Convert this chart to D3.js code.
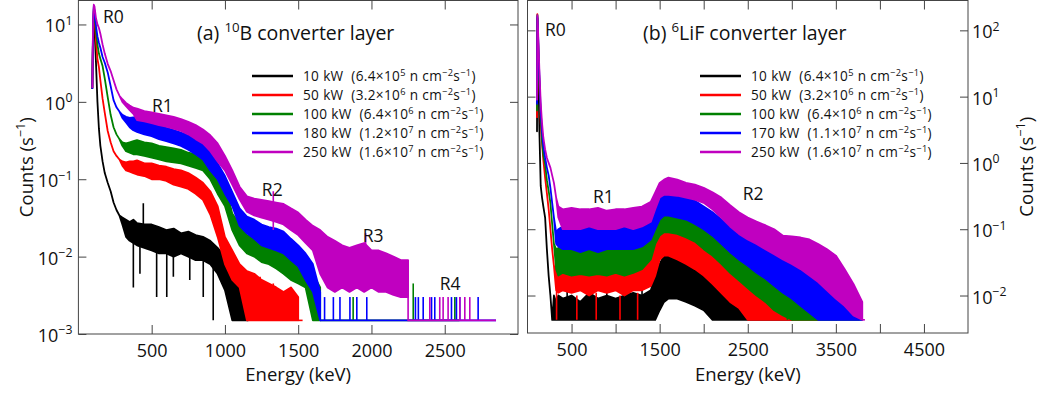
<!DOCTYPE html>
<html>
<head>
<meta charset="utf-8">
<script src="https://cdn.jsdelivr.net/npm/d3@7"></script>
<style>
  html, body { margin: 0; padding: 0; background: #fff; }
  svg { display: block; font-family: "Open Sans", "Liberation Sans", sans-serif; }
  text { white-space: pre; }
</style>
</head>
<body>
<svg id="chart" width="1047" height="394"></svg>
<script>
// ---- series meta ----
const seriesColors = ["#000000", "#ff0000", "#008000", "#0000ff", "#c000c0"];
const powerA = ["10 kW", "50 kW", "100 kW", "180 kW", "250 kW"];
const fluxMantA = ["6.4", "3.2", "6.4", "1.2", "1.6"];
const fluxExpA = ["5", "6", "6", "7", "7"];
const powerB = ["10 kW", "50 kW", "100 kW", "170 kW", "250 kW"];
const fluxMantB = ["6.4", "3.2", "6.4", "1.1", "1.6"];
const fluxExpB = ["5", "6", "6", "7", "7"];

// ---- panel (a): 10B converter, energy grid (keV) and count rates (s^-1) ----
const gridA = [95, 100, 105, 110, 120, 130, 140, 150, 165, 180,
  200, 220, 240, 260, 280, 300, 325, 350, 375, 400,
  450, 500, 550, 600, 650, 700, 750, 800, 850, 900,
  950, 1000, 1050, 1100, 1150, 1200, 1250, 1300, 1350, 1400,
  1450, 1500, 1550, 1600, 1650, 1700, 1750, 1800, 1850, 1900,
  1950, 2000, 2050, 2100, 2150, 2200, 2250];

const a10Hi = [1.5, 8, 12, 9, 3.2, 1.0, 0.45, 0.27, 0.17, 0.12,
  0.09, 0.07, 0.05, 0.04, 0.034, 0.032, 0.03, 0.028, 0.03, 0.027,
  0.026, 0.026, 0.024, 0.022, 0.023, 0.02, 0.021, 0.019, 0.018, 0.016,
  0.013, 0.01, 0.006, 0.0045, 0.004];
const a10Lo = [null, null, null, null, null, null, null, null, null, null,
  null, null, null, null, null, 0.026, 0.018, 0.016, 0.015, 0.014,
  0.013, 0.012, 0.011, 0.011, 0.01, 0.011, 0.01, 0.009, 0.009, 0.008,
  0.006, 0.0037, 0.0015, 0.0015, 0.0015];

const a50Hi = [1.5, 8, 15, 13, 6, 3.6, 2.8, 1.9, 1.1, 0.72,
  0.42, 0.3, 0.23, 0.2, 0.18, 0.17, 0.165, 0.17, 0.17, 0.175,
  0.16, 0.16, 0.15, 0.145, 0.135, 0.13, 0.12, 0.105, 0.09, 0.07,
  0.045, 0.018, 0.012, 0.008, 0.0065, 0.006, 0.005, 0.0045, 0.004, 0.0035,
  0.004, 0.003];
const a50Lo = [null, null, null, null, null, null, null, null, null, null,
  null, null, null, null, null, 0.15, 0.13, 0.125, 0.12, 0.115,
  0.11, 0.1, 0.1, 0.095, 0.085, 0.08, 0.075, 0.065, 0.054, 0.035,
  0.018, 0.008, 0.005, 0.004, 0.0015, 0.0015, 0.0015, 0.0015, 0.0015, 0.0015,
  0.0015, 0.0015];

const a100Hi = [1.5, 9, 16, 14, 8, 5.5, 4.2, 3.6, 2.9, 2.0,
  1.15, 0.68, 0.47, 0.38, 0.33, 0.3, 0.29, 0.3, 0.31, 0.32,
  0.3, 0.29, 0.27, 0.26, 0.25, 0.24, 0.22, 0.21, 0.2, 0.17,
  0.12, 0.085, 0.036, 0.026, 0.019, 0.017, 0.014, 0.013, 0.012, 0.012,
  0.011, 0.01, 0.008, 0.006, 0.004];
const a100Lo = [null, null, null, null, null, null, null, null, null, null,
  null, null, null, null, null, 0.27, 0.23, 0.22, 0.21, 0.21,
  0.2, 0.19, 0.18, 0.17, 0.165, 0.16, 0.15, 0.14, 0.13, 0.1,
  0.065, 0.045, 0.022, 0.014, 0.011, 0.01, 0.0085, 0.008, 0.007, 0.006,
  0.005, 0.0045, 0.004, 0.0015, 0.0015];

const a180Hi = [1.5, 10, 17, 15, 9.5, 7, 5.8, 5, 3.8, 3.2,
  2.4, 1.6, 1.05, 0.85, 0.75, 0.68, 0.64, 0.62, 0.63, 0.63,
  0.57, 0.53, 0.5, 0.46, 0.43, 0.4, 0.37, 0.33, 0.29, 0.22,
  0.16, 0.11, 0.068, 0.042, 0.033, 0.03, 0.026, 0.024, 0.023, 0.021,
  0.017, 0.014, 0.011, 0.008, 0.0035];
const a180Lo = [null, null, null, null, null, null, null, null, null, null,
  null, null, null, null, null, 0.62, 0.54, 0.47, 0.43, 0.41,
  0.38, 0.36, 0.33, 0.31, 0.29, 0.27, 0.24, 0.21, 0.18, 0.13,
  0.1, 0.065, 0.045, 0.025, 0.02, 0.017, 0.014, 0.013, 0.012, 0.011,
  0.009, 0.0075, 0.005, 0.0035, 0.0015];

const a250Hi = [1.55, 11, 18, 17, 12, 10, 9, 7.6, 5.5, 4.2,
  3.1, 2.5, 1.9, 1.45, 1.2, 1.08, 0.97, 0.9, 0.84, 0.82,
  0.76, 0.73, 0.7, 0.67, 0.64, 0.6, 0.55, 0.5, 0.44, 0.37,
  0.29, 0.2, 0.13, 0.08, 0.06, 0.056, 0.054, 0.052, 0.05, 0.048,
  0.042, 0.037, 0.03, 0.025, 0.022, 0.018, 0.016, 0.014, 0.013, 0.014,
  0.015, 0.012, 0.012, 0.011, 0.01, 0.009, 0.009];
const a250Lo = [null, null, null, null, null, null, null, null, null, null,
  null, null, null, null, null, 1.0, 0.88, 0.78, 0.7, 0.58,
  0.56, 0.53, 0.5, 0.48, 0.45, 0.42, 0.38, 0.33, 0.29, 0.23,
  0.17, 0.13, 0.085, 0.055, 0.038, 0.034, 0.032, 0.03, 0.028, 0.026,
  0.022, 0.019, 0.015, 0.012, 0.006, 0.004, 0.0035, 0.004, 0.0035, 0.004,
  0.0035, 0.004, 0.0035, 0.0035, 0.0032, 0.003, 0.003];

const floorA = 0.0015;                       // single-count level
const tailEndA = [1160, 1530, 2600, 2850, 2850];
// isolated noise strokes: [energy, low, high]
const spikesA = [
  [[375, 0.004, 0.015], [420, 0.006, 0.014], [443, 0.013, 0.049], [534, 0.003, 0.012],
   [603, 0.003, 0.011], [648, 0.0055, 0.011], [760, 0.005, 0.01], [852, 0.003, 0.009],
   [920, 0.0015, 0.008], [1070, 0.0015, 0.0048], [1100, 0.0015, 0.005]],
  [[1180, 0.0015, 0.006], [1240, 0.0015, 0.0055], [1330, 0.0015, 0.0045]],
  [[1875, 0.0015, 0.003], [2285, 0.0015, 0.0045], [2569, 0.0015, 0.003]],
  [[1680, 0.0015, 0.003], [1740, 0.0015, 0.003], [1785, 0.0015, 0.003], [1853, 0.0015, 0.003],
   [1900, 0.0015, 0.003], [1968, 0.0015, 0.003], [2300, 0.0015, 0.003], [2320, 0.0015, 0.003],
   [2353, 0.0015, 0.003], [2410, 0.0015, 0.003], [2432, 0.0015, 0.003], [2546, 0.0015, 0.003],
   [2580, 0.0015, 0.003], [2603, 0.0015, 0.003], [2728, 0.0015, 0.003]],
  [[1330, 0.022, 0.07], [1960, 0.005, 0.02], [2398, 0.0015, 0.003], [2466, 0.0015, 0.003],
   [2489, 0.0015, 0.003], [2523, 0.0015, 0.003], [2603, 0.0015, 0.003], [2637, 0.0015, 0.003],
   [2671, 0.0015, 0.003]]
];

// ---- panel (b): 6LiF converter ----
const gridB = [108, 112, 118, 125, 135, 150, 165, 180, 200, 220,
  240, 260, 280, 300, 325, 350, 400, 500, 600, 700,
  800, 900, 1000, 1100, 1200, 1300, 1400, 1450, 1500, 1550,
  1600, 1700, 1800, 1900, 2000, 2100, 2200, 2300, 2400, 2500,
  2600, 2700, 2800, 2900, 3000, 3100, 3200, 3300, 3400, 3500,
  3600, 3700, 3800];

const b10Hi = [3, 150, 70, 20, 3, 0.45, 0.3, 0.22, 0.15, 0.05,
  0.02, 0.01, 0.0043, 0.01, 0.008, 0.01, 0.009, 0.01, 0.008, 0.011,
  0.009, 0.01, 0.009, 0.01, 0.011, 0.01, 0.012, 0.02, 0.03, 0.04,
  0.045, 0.045, 0.04, 0.035, 0.03, 0.025, 0.02, 0.017, 0.014, 0.012,
  0.01, 0.008, 0.007, 0.0055, 0.0043];
const b10Lo = [null, null, null, null, null, null, null, null, null, null,
  null, null, null, 0.0043, 0.0043, 0.0043, 0.0043, 0.0043, 0.0043, 0.0043,
  0.0043, 0.0043, 0.0043, 0.0043, 0.0043, 0.0043, 0.0043, 0.0043, 0.006, 0.008,
  0.009, 0.009, 0.008, 0.007, 0.006, 0.0043, 0.0043, 0.0043, 0.0043, 0.0043,
  0.0043, 0.0043, 0.0043, 0.0043, 0.0043];

const b50Hi = [4.9, 175, 90, 40, 14, 4, 2, 1.1, 0.6, 0.35,
  0.2, 0.1, 0.05, 0.028, 0.025, 0.03, 0.03, 0.028, 0.03, 0.028,
  0.03, 0.025, 0.03, 0.03, 0.028, 0.03, 0.04, 0.07, 0.1, 0.12,
  0.12, 0.11, 0.095, 0.08, 0.07, 0.055, 0.045, 0.035, 0.028, 0.022,
  0.018, 0.014, 0.011, 0.009, 0.007, 0.006, 0.0055, 0.0043];
const b50Lo = [null, null, null, null, null, null, null, null, null, null,
  null, null, null, null, 0.012, 0.011, 0.012, 0.011, 0.012, 0.01,
  0.012, 0.011, 0.012, 0.01, 0.012, 0.012, 0.014, 0.02, 0.035, 0.04,
  0.04, 0.035, 0.03, 0.025, 0.02, 0.015, 0.011, 0.008, 0.0065, 0.0043,
  0.0043, 0.0043, 0.0043, 0.0043, 0.0043, 0.0043, 0.0043, 0.0043];

const b100Hi = [6.2, 170, 100, 45, 16, 5, 2.2, 1.3, 0.95, 0.55,
  0.38, 0.25, 0.12, 0.06, 0.05, 0.052, 0.055, 0.05, 0.05, 0.055,
  0.05, 0.052, 0.05, 0.055, 0.055, 0.06, 0.08, 0.13, 0.18, 0.21,
  0.2, 0.18, 0.15, 0.13, 0.11, 0.09, 0.07, 0.055, 0.045, 0.038,
  0.032, 0.025, 0.02, 0.016, 0.013, 0.011, 0.009, 0.008, 0.006, 0.0043];
const b100Lo = [null, null, null, null, null, null, null, null, null, null,
  null, null, null, null, 0.025, 0.02, 0.022, 0.02, 0.021, 0.02,
  0.021, 0.02, 0.022, 0.02, 0.022, 0.025, 0.035, 0.06, 0.08, 0.09,
  0.09, 0.085, 0.075, 0.065, 0.05, 0.04, 0.03, 0.022, 0.017, 0.013,
  0.01, 0.008, 0.006, 0.005, 0.0043, 0.0043, 0.0043, 0.0043, 0.0043, 0.0043];

const b170Hi = [7.8, 160, 110, 50, 20, 6, 3, 1.8, 1.2, 0.85,
  0.65, 0.42, 0.25, 0.15, 0.09, 0.1, 0.11, 0.1, 0.1, 0.11,
  0.1, 0.1, 0.105, 0.11, 0.11, 0.12, 0.15, 0.22, 0.3, 0.35,
  0.35, 0.32, 0.3, 0.27, 0.22, 0.18, 0.14, 0.11, 0.09, 0.075,
  0.065, 0.055, 0.045, 0.038, 0.032, 0.026, 0.022, 0.018, 0.014, 0.009,
  0.007, 0.008, 0.0043];
const b170Lo = [null, null, null, null, null, null, null, null, null, null,
  null, null, null, null, 0.06, 0.055, 0.05, 0.05, 0.045, 0.05,
  0.045, 0.05, 0.05, 0.05, 0.05, 0.055, 0.07, 0.1, 0.14, 0.16,
  0.16, 0.15, 0.14, 0.12, 0.1, 0.08, 0.06, 0.045, 0.035, 0.028,
  0.022, 0.018, 0.014, 0.011, 0.009, 0.007, 0.0055, 0.0043, 0.0043, 0.0043,
  0.0043, 0.0043, 0.0043];

const b250Hi = [9, 170, 120, 60, 25, 8, 4, 2.4, 1.6, 1.2,
  1.0, 0.85, 0.65, 0.5, 0.3, 0.22, 0.2, 0.21, 0.2, 0.2,
  0.21, 0.19, 0.2, 0.2, 0.21, 0.22, 0.26, 0.36, 0.5, 0.56,
  0.6, 0.56, 0.5, 0.47, 0.42, 0.36, 0.3, 0.23, 0.18, 0.15,
  0.13, 0.115, 0.1, 0.08, 0.078, 0.075, 0.07, 0.06, 0.05, 0.04,
  0.025, 0.015, 0.008];
const b250Lo = [null, null, null, null, null, null, null, null, null, null,
  null, null, null, null, null, 0.15, 0.1, 0.1, 0.1, 0.11,
  0.1, 0.1, 0.1, 0.11, 0.1, 0.11, 0.13, 0.2, 0.3, 0.33,
  0.33, 0.32, 0.3, 0.28, 0.25, 0.2, 0.15, 0.11, 0.085, 0.07,
  0.06, 0.05, 0.042, 0.035, 0.03, 0.025, 0.02, 0.016, 0.012, 0.009,
  0.007, 0.005, 0.0043];

const floorB = 0.0043;
const tailEndB = [3770, 3300, 3800, 3800, 3830];
const spikesB = [
  [[450, 0.0043, 0.0135], [900, 0.0043, 0.013], [1300, 0.0043, 0.014], [2750, 0.0043, 0.0105]],
  [[330, 0.0043, 0.012], [560, 0.0043, 0.01], [780, 0.0043, 0.011], [1050, 0.0043, 0.01],
   [1250, 0.0043, 0.011], [2650, 0.005, 0.026], [2850, 0.0043, 0.016]],
  [[2950, 0.0043, 0.02], [3150, 0.0043, 0.013]],
  [[3425, 0.0043, 0.015], [3747, 0.0043, 0.009]],
  [[3790, 0.0043, 0.0065]]
];

// ---- annotations (energy keV, count rate) ----
const regionNamesA = ["R0", "R1", "R2", "R3", "R4"];
const regionEA = [168, 502, 1252, 1941, 2466];
const regionCA = [10.3, 0.73, 0.06, 0.0154, 0.0037];
const regionNamesB = ["R0", "R1", "R2"];
const regionEB = [198, 743, 2443];
const regionCB = [81, 0.247, 0.274];

const xTickLabelsA = [500, 1000, 1500, 2000, 2500];
const xTickLabelsB = [500, 1500, 2500, 3500, 4500];
const yDecadesA = [-3, -2, -1, 0, 1];
const yDecadesB = [-2, -1, 0, 1, 2];

const svg = d3.select("#chart");
const frameColor = "#444";
const textColor = "#111";

// text with superscripts: parts = [[string, isSup], ...]
function richText(sel, parts, fs, rise = 0.42) {
  let up = false;
  parts.forEach(([str, sup]) => {
    const t = sel.append("tspan").text(str);
    if (sup) {
      t.attr("font-size", fs * 0.68);
      if (!up) { t.attr("dy", -fs * rise); up = true; }
    } else if (up) {
      t.attr("dy", fs * rise); up = false;
    }
  });
}

function expText(n) {
  return n < 0 ? "\u2212" + Math.abs(n) : String(n);
}

function drawPanel(cfg) {
  const g = svg.append("g");
  const x = d3.scaleLinear().domain(cfg.xDomain).range([cfg.left, cfg.right]);
  const y = d3.scaleLog().domain(cfg.yDomain).range([cfg.bottom, cfg.top]);

  const clipId = "clip-" + cfg.id;
  svg.append("clipPath").attr("id", clipId)
    .append("rect")
    .attr("x", cfg.left).attr("y", cfg.top)
    .attr("width", cfg.right - cfg.left).attr("height", cfg.bottom - cfg.top);

  const plot = g.append("g").attr("clip-path", `url(#${clipId})`);

  const area = d3.area()
    .defined(d => d.hi != null)
    .x(d => x(d.e))
    .y0(d => y(d.lo ?? d.hi))
    .y1(d => y(d.hi));

  cfg.hi.forEach((hiArr, k) => {
    const color = seriesColors[k];
    const pts = hiArr.map((v, i) => ({ e: cfg.grid[i], hi: v, lo: cfg.lo[k][i] }));
    const last = pts[pts.length - 1];

    // baseline tail: drop to single-count level and run on
    plot.append("path")
      .attr("d", d3.line()([
        [x(last.e), y(last.lo ?? last.hi)],
        [x(last.e), y(cfg.floor)],
        [x(cfg.tailEnd[k]), y(cfg.floor)]
      ]))
      .attr("fill", "none")
      .attr("stroke", color)
      .attr("stroke-width", 1.6);

    plot.selectAll(null)
      .data(cfg.spikes[k])
      .join("line")
      .attr("x1", d => x(d[0])).attr("x2", d => x(d[0]))
      .attr("y1", d => y(d[1])).attr("y2", d => y(d[2]))
      .attr("stroke", color)
      .attr("stroke-width", 1.6);

    plot.append("path")
      .datum(pts)
      .attr("d", area)
      .attr("fill", color)
      .attr("stroke", color)
      .attr("stroke-width", 1.8)
      .attr("stroke-linejoin", "round");
  });

  // frame
  g.append("rect")
    .attr("x", cfg.left).attr("y", cfg.top)
    .attr("width", cfg.right - cfg.left).attr("height", cfg.bottom - cfg.top)
    .attr("fill", "none").attr("stroke", frameColor).attr("stroke-width", 1);

  const xTicks = d3.range(500, cfg.xDomain[1], 500);
  const styleAxis = a => {
    a.select(".domain").remove();
    a.attr("color", frameColor).attr("font-family", null).attr("font-size", 18);
    a.selectAll("text").attr("fill", textColor);
  };

  g.append("g")
    .attr("transform", `translate(0,${cfg.bottom})`)
    .call(d3.axisBottom(x).tickValues(xTicks).tickSize(-9).tickPadding(10)
      .tickFormat(d => cfg.xLabels.includes(d) ? String(d) : ""))
    .call(styleAxis);

  g.append("g")
    .attr("transform", `translate(0,${cfg.top})`)
    .call(d3.axisTop(x).tickValues(xTicks).tickSize(-9).tickFormat(""))
    .call(styleAxis);

  const yTicks = cfg.decades.map(p => Math.pow(10, p));
  g.append("g")
    .attr("transform", `translate(${cfg.left},0)`)
    .call(d3.axisLeft(y).tickValues(yTicks).tickSize(-8).tickFormat(""))
    .call(styleAxis);
  g.append("g")
    .attr("transform", `translate(${cfg.right},0)`)
    .call(d3.axisRight(y).tickValues(yTicks).tickSize(-8).tickFormat(""))
    .call(styleAxis);

  // decade labels
  cfg.decades.forEach(p => {
    const t = g.append("text")
      .attr("x", cfg.yLabelSide === "left" ? cfg.left - 6 : cfg.right + 4)
      .attr("y", y(Math.pow(10, p)) + 8)
      .attr("text-anchor", cfg.yLabelSide === "left" ? "end" : "start")
      .attr("font-size", 18)
      .attr("fill", textColor);
    richText(t, [["10", false], [expText(p), true]], 18);
  });

  // axis titles
  g.append("text")
    .attr("x", (cfg.left + cfg.right) / 2)
    .attr("y", 381)
    .attr("text-anchor", "middle")
    .attr("font-size", 18.5)
    .attr("fill", textColor)
    .text("Energy (keV)");

  const yt = g.append("text")
    .attr("transform", `translate(${cfg.yTitleX},${(cfg.top + cfg.bottom) / 2}) rotate(-90)`)
    .attr("text-anchor", "middle")
    .attr("font-size", 18.5)
    .attr("fill", textColor);
  richText(yt, [["Counts (s", false], ["\u22121", true], [")", false]], 18.5);

  // panel title
  const tt = g.append("text")
    .attr("x", cfg.titleX).attr("y", 40)
    .attr("font-size", 19.5)
    .attr("fill", textColor);
  richText(tt, cfg.title, 19.5);

  // region labels
  cfg.regions.forEach((name, i) => {
    g.append("text")
      .attr("x", x(cfg.regionE[i]))
      .attr("y", y(cfg.regionC[i]))
      .attr("font-size", 17.5)
      .attr("fill", textColor)
      .text(name);
  });

  // legend
  cfg.power.forEach((pw, k) => {
    const ly = 76 + k * 19;
    g.append("line")
      .attr("x1", cfg.legendX).attr("x2", cfg.legendX + 41)
      .attr("y1", ly).attr("y2", ly)
      .attr("stroke", seriesColors[k])
      .attr("stroke-width", 2.6);
    const lt = g.append("text")
      .attr("x", cfg.legendX + 51).attr("y", ly + 5)
      .attr("font-size", 13.6)
      .attr("letter-spacing", 0.35)
      .attr("fill", textColor);
    richText(lt, [
      [`${pw}  (${cfg.mant[k]}\u00d710`, false], [cfg.exp[k], true],
      [" n cm", false], ["\u22122", true], ["s", false], ["\u22121", true], [")", false]
    ], 13.6, 0.34);
  });
}

drawPanel({
  id: "a",
  left: 78.4, right: 518, top: 0.5, bottom: 334,
  xDomain: [0, 3000], yDomain: [0.001, 20.4],
  grid: gridA,
  hi: [a10Hi, a50Hi, a100Hi, a180Hi, a250Hi],
  lo: [a10Lo, a50Lo, a100Lo, a180Lo, a250Lo],
  floor: floorA, tailEnd: tailEndA, spikes: spikesA,
  xLabels: xTickLabelsA, decades: yDecadesA, yLabelSide: "left",
  yTitleX: 33,
  titleX: 197, title: [["(a) ", false], ["10", true], ["B converter layer", false]],
  regions: regionNamesA, regionE: regionEA, regionC: regionCA,
  power: powerA, mant: fluxMantA, exp: fluxExpA, legendX: 252
});

drawPanel({
  id: "b",
  left: 527.5, right: 968, top: 0.5, bottom: 333,
  xDomain: [0, 5000], yDomain: [0.00272, 282],
  grid: gridB,
  hi: [b10Hi, b50Hi, b100Hi, b170Hi, b250Hi],
  lo: [b10Lo, b50Lo, b100Lo, b170Lo, b250Lo],
  floor: floorB, tailEnd: tailEndB, spikes: spikesB,
  xLabels: xTickLabelsB, decades: yDecadesB, yLabelSide: "right",
  yTitleX: 1033,
  titleX: 643, title: [["(b) ", false], ["6", true], ["LiF converter layer", false]],
  regions: regionNamesB, regionE: regionEB, regionC: regionCB,
  power: powerB, mant: fluxMantB, exp: fluxExpB, legendX: 700
});
</script>
</body>
</html>
